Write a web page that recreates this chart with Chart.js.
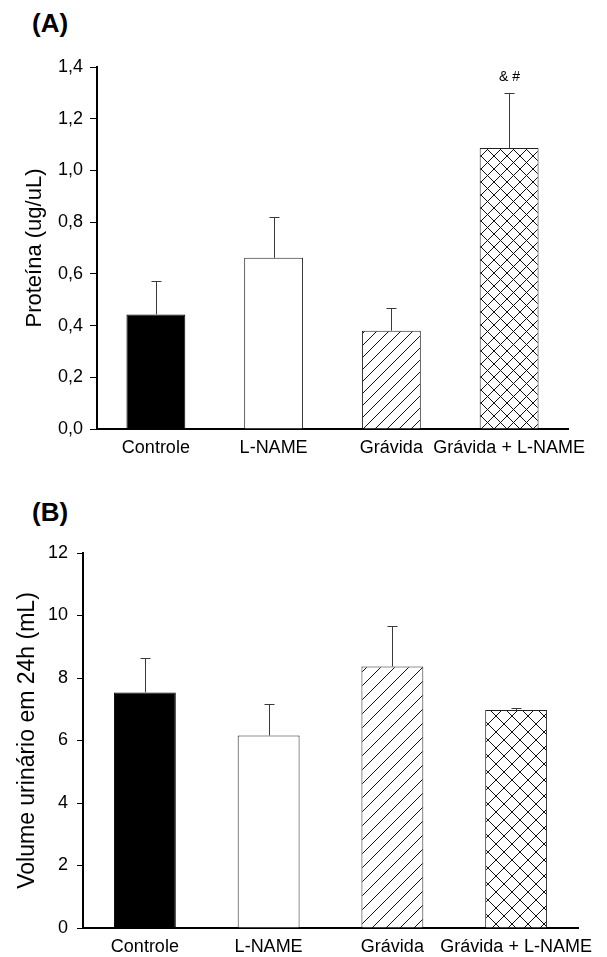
<!DOCTYPE html>
<html>
<head>
<meta charset="utf-8">
<script src="https://cdn.jsdelivr.net/npm/chart.js@4.4.1/dist/chart.umd.min.js"></script>
<style>
  body { margin: 0; background: #fff; }
  #wrap { position: relative; width: 607px; height: 957px; }
  canvas { position: absolute; left: 0; }
  .panel { position: absolute; left: 32px; font: bold 26px "Liberation Sans", Arial, sans-serif; line-height: 26px; color: #000; }
</style>
</head>
<body>
<div id="wrap">
  <div class="panel" style="top:10px">(A)</div>
  <div class="panel" style="top:499px">(B)</div>
  <canvas id="proteinChart" width="607" height="460" style="top:0"></canvas>
  <canvas id="urineChart" width="607" height="497" style="top:460px"></canvas>
</div>
<script>
const categories = ['Controle', 'L-NAME', 'Grávida', 'Grávida + L-NAME'];

// Proteína (ug/uL), mean and SEM
const proteinMeans = [0.443, 0.662, 0.380, 1.087];
const proteinErrors = [0.130, 0.157, 0.087, 0.211];
const proteinMarks = ['', '', '', '& #'];

// Volume urinário em 24h (mL), mean and SEM
const urineMeans = [7.54, 6.16, 8.37, 6.98];
const urineErrors = [1.11, 1.01, 1.31, 0.05];

const FONT = '"Liberation Sans", Arial, sans-serif';

// white tile with "/" lines, optionally crossed with "\" lines
function hatch(kind, size) {
    const c = document.createElement('canvas');
    c.width = c.height = size;
    const g = c.getContext('2d');
    g.fillStyle = '#fff';
    g.fillRect(0, 0, size, size);
    g.strokeStyle = '#111';
    g.lineWidth = 1;
    g.beginPath();
    g.moveTo(-1, size + 1); g.lineTo(size + 1, -1);
    if (kind === 'cross') {
        g.moveTo(-1, -1); g.lineTo(size + 1, size + 1);
    }
    g.stroke();
    return g.createPattern(c, 'repeat');
}

const errorBars = {
    id: 'errorBars',
    afterDatasetsDraw(chart, args, opts) {
        const ctx = chart.ctx;
        const y = chart.scales.y;
        const values = chart.data.datasets[0].data;
        ctx.save();
        ctx.strokeStyle = '#3a3a3a';
        ctx.lineWidth = 1;
        chart.getDatasetMeta(0).data.forEach((bar, i) => {
            const top = Math.round(y.getPixelForValue(values[i] + opts.errors[i])) + 0.5;
            const x = Math.round(bar.x) + 0.5;
            ctx.beginPath();
            ctx.moveTo(x, bar.y);
            ctx.lineTo(x, top);
            ctx.moveTo(x - opts.cap / 2, top);
            ctx.lineTo(x + opts.cap / 2, top);
            ctx.stroke();
            const mark = (opts.marks || [])[i];
            if (mark) {
                ctx.fillStyle = '#000';
                ctx.font = '14px ' + FONT;
                ctx.textAlign = 'center';
                ctx.textBaseline = 'middle';
                ctx.fillText(mark, x, top - 16);
            }
        });
        ctx.restore();
    }
};

function makeChart(id, means, errors, marks, cfg) {
    return new Chart(document.getElementById(id), {
        type: 'bar',
        data: {
            labels: categories,
            datasets: [{
                data: means,
                backgroundColor: ['#000', '#fff', hatch('diag', cfg.diag), hatch('cross', cfg.cross)],
                borderColor: ['#000', '#222', '#222', '#222'],
                borderWidth: 1,
                categoryPercentage: 1,
                barPercentage: 0.5
            }]
        },
        options: {
            responsive: false,
            animation: false,
            layout: { padding: cfg.padding },
            plugins: {
                legend: { display: false },
                tooltip: { enabled: false },
                errorBars: { errors: errors, marks: marks, cap: 10 }
            },
            scales: {
                x: {
                    grid: { display: false, drawTicks: false },
                    border: { display: true, color: '#000', width: 2 },
                    ticks: { color: '#000', font: { family: FONT, size: 18 }, padding: 8, maxRotation: 0, autoSkip: false },
                    afterFit: s => { s.height = cfg.xHeight; }
                },
                y: {
                    min: 0,
                    max: cfg.max,
                    grid: { drawOnChartArea: false, drawTicks: true, tickLength: cfg.tickLength, color: '#000', lineWidth: 1 },
                    border: { display: true, color: '#000', width: 2 },
                    ticks: { stepSize: cfg.step, color: '#000', padding: cfg.tickPad, font: { family: FONT, size: 18 }, callback: cfg.format },
                    title: { display: true, text: cfg.title, color: '#000', font: { family: FONT, size: cfg.titleSize }, padding: { top: cfg.titlePad, bottom: 0 } },
                    afterFit: s => { s.width = cfg.yWidth; }
                }
            }
        },
        plugins: [errorBars]
    });
}

makeChart('proteinChart', proteinMeans, proteinErrors, proteinMarks, {
    max: 1.4, step: 0.2, format: v => v.toFixed(1).replace('.', ','),
    title: 'Proteína (ug/uL)', titleSize: 22, titlePad: 22,
    padding: { left: 0, right: 39, top: 67, bottom: 0 },
    yWidth: 97, xHeight: 31, tickLength: 7, tickPad: 7,
    diag: 12, cross: 13
});

makeChart('urineChart', urineMeans, urineErrors, [], {
    max: 12, step: 2, format: v => String(v),
    title: 'Volume urinário em 24h (mL)', titleSize: 23, titlePad: 14,
    padding: { left: 0, right: 29, top: 93, bottom: 0 },
    yWidth: 83, xHeight: 29, tickLength: 6, tickPad: 9,
    diag: 14, cross: 16
});
</script>
</body>
</html>
